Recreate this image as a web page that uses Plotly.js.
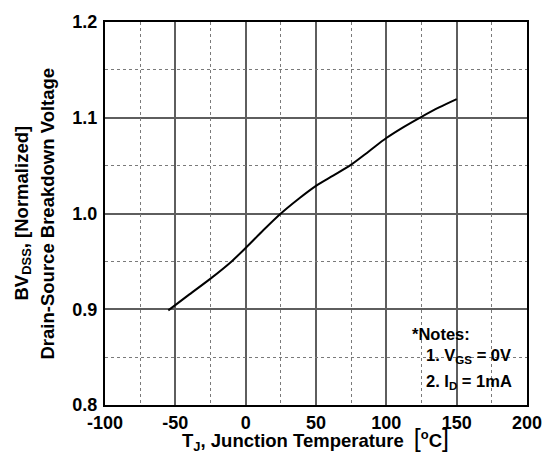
<!DOCTYPE html>
<html>
<head>
<meta charset="utf-8">
<script src="https://cdn.plot.ly/plotly-3.0.1.min.js"></script>
<style>html,body{margin:0;padding:0;background:#fff;}#chart{width:544px;height:454px;}</style>
</head>
<body>
<div id="chart"></div>
<script>
// Junction temperature (°C)
const tempC = [-55, -40, -25, -10, 0, 12.5, 25, 37.5, 50, 62.5, 75, 87.5, 100, 112.5, 125, 137.5, 150];
// Normalized breakdown voltage BVDSS
const bvNorm = [0.8988, 0.9155, 0.932, 0.950, 0.964, 0.9825, 1.000, 1.0152, 1.0289, 1.0398, 1.0510, 1.0648, 1.0788, 1.0905, 1.1010, 1.1108, 1.1195];
const xTicks = [-100, -50, 0, 50, 100, 150, 200];
const xTickText = ['-100', '-50', '0', '50', '100', '150', '200'];
const xMinor = [-75, -25, 25, 75, 125, 175];
const yTicks = [0.8, 0.9, 1.0, 1.1, 1.2];
const yTickText = ['0.8', '0.9', '1.0', '1.1', '1.2'];
const yMinor = [0.85, 0.95, 1.05, 1.15];
const noteLines = ['*Notes:', '1. V<sub>GS</sub> = 0V', '2. I<sub>D</sub> = 1mA'];

const FONT = 'Liberation Sans, Arial, sans-serif';
const X_RANGE = [-100, 200], Y_RANGE = [0.8, 1.2];

const trace = {
  x: tempC, y: bvNorm, type: 'scatter', mode: 'lines',
  line: {color: '#000', width: 2, shape: 'spline', smoothing: 0.8},
  hoverinfo: 'skip', xaxis: 'x', yaxis: 'y'
};
// invisible helper trace so the dotted-grid overlay axes are drawn
const gridHelper = {
  x: [X_RANGE[0]], y: [Y_RANGE[0]], type: 'scatter', mode: 'markers',
  marker: {opacity: 0}, hoverinfo: 'skip', xaxis: 'x2', yaxis: 'y2'
};

const layout = {
  width: 544, height: 454,
  margin: {l: 105, r: 17, t: 22, b: 49},
  paper_bgcolor: '#fff', plot_bgcolor: '#fff',
  showlegend: false,
  xaxis: {
    range: X_RANGE, tickmode: 'array', tickvals: xTicks, ticktext: xTickText, ticklabelstandoff: 0,
    showline: true, mirror: true, linecolor: '#000', linewidth: 2,
    showgrid: true, gridcolor: '#5e5e5e', gridwidth: 2, griddash: 'solid', zeroline: false, ticks: '',
    tickfont: {family: FONT, size: 18, color: '#000', weight: 'bold'}
  },
  yaxis: {
    range: Y_RANGE, tickmode: 'array', tickvals: yTicks, ticktext: yTickText, ticklabelstandoff: 2,
    showline: true, mirror: true, linecolor: '#000', linewidth: 2,
    showgrid: true, gridcolor: '#5e5e5e', gridwidth: 2, griddash: 'solid', zeroline: false, ticks: '',
    tickfont: {family: FONT, size: 18, color: '#000', weight: 'bold'}
  },
  xaxis2: {
    overlaying: 'x', range: X_RANGE, tickmode: 'array', tickvals: xMinor, showticklabels: false,
    showgrid: true, griddash: 'dot', gridcolor: '#7a7a7a', gridwidth: 1, zeroline: false, showline: false, ticks: ''
  },
  yaxis2: {
    overlaying: 'y', range: Y_RANGE, tickmode: 'array', tickvals: yMinor, showticklabels: false,
    showgrid: true, griddash: 'dot', gridcolor: '#7a7a7a', gridwidth: 1, zeroline: false, showline: false, ticks: ''
  },
  shapes: [{
    type: 'rect', xref: 'x', yref: 'y', x0: 111, x1: 199, y0: 0.805, y1: 0.882,
    fillcolor: '#fff', line: {width: 0}, layer: 'below'
  }],
  annotations: [
    {xref: 'paper', yref: 'paper', x: 0.5, y: 0, xanchor: 'center', yanchor: 'middle',
     yshift: -34, xshift: -1, showarrow: false,
     text: 'T<sub>J</sub>, Junction Temperature&nbsp;<span style="font-size:25px;font-weight:normal">&#8201;[</span><sup>o</sup>C<span style="font-size:25px;font-weight:normal">]</span>',
     font: {family: FONT, size: 18.5, color: '#000', weight: 'bold'}},
    {xref: 'paper', yref: 'paper', x: 0, y: 0.5, xanchor: 'center', yanchor: 'middle',
     xshift: -83, showarrow: false, textangle: -90,
     text: 'BV<sub>DSS</sub>, [Normalized]',
     font: {family: FONT, size: 18.5, color: '#000', weight: 'bold'}},
    {xref: 'paper', yref: 'paper', x: 0, y: 0.5, xanchor: 'center', yanchor: 'middle',
     xshift: -58, showarrow: false, textangle: -90,
     text: 'Drain-Source Breakdown Voltage',
     font: {family: FONT, size: 18.5, color: '#000', weight: 'bold'}},
    {xref: 'x', yref: 'y', x: 116.5, y: 0.8745, xanchor: 'left', yanchor: 'middle', showarrow: false,
     text: noteLines[0], font: {family: FONT, size: 16.5, color: '#000', weight: 'bold'}},
    {xref: 'x', yref: 'y', x: 127, y: 0.851, xanchor: 'left', yanchor: 'middle', showarrow: false,
     text: noteLines[1], font: {family: FONT, size: 16.5, color: '#000', weight: 'bold'}},
    {xref: 'x', yref: 'y', x: 127, y: 0.824, xanchor: 'left', yanchor: 'middle', showarrow: false,
     text: noteLines[2], font: {family: FONT, size: 16.5, color: '#000', weight: 'bold'}}
  ]
};

Plotly.newPlot('chart', [gridHelper, trace], layout, {staticPlot: true, displayModeBar: false});
</script>
</body>
</html>
